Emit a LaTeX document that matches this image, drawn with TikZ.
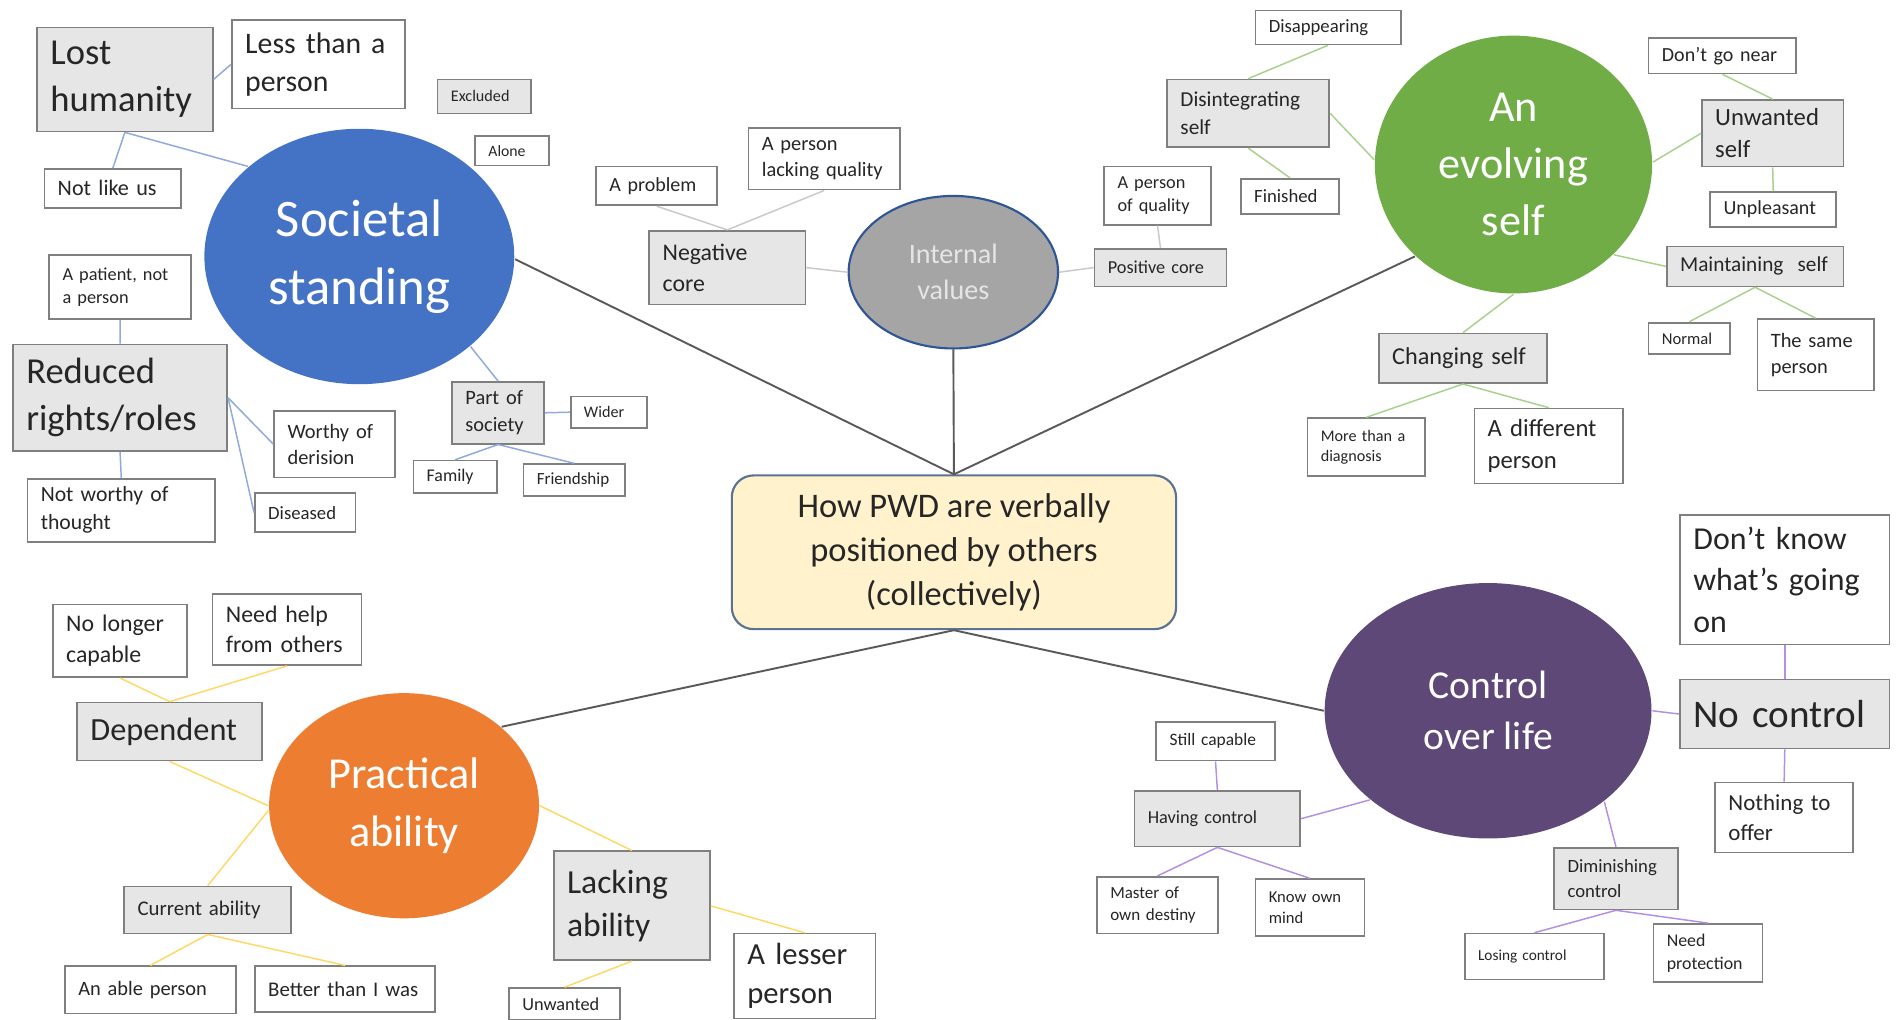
\documentclass[tikz,border=0pt]{standalone}
\usepackage{fontspec}
\setmainfont{Carlito}
\usetikzlibrary{shapes.geometric}
\hyphenpenalty=10000
\exhyphenpenalty=10000

\definecolor{boxgray}{HTML}{E6E6E6}
\definecolor{boxline}{HTML}{7F7F7F}
\definecolor{txt}{HTML}{262626}
\definecolor{socblue}{HTML}{4472C4}
\definecolor{intgray}{HTML}{A5A5A5}
\definecolor{intline}{HTML}{2F5597}
\definecolor{evgreen}{HTML}{70AD47}
\definecolor{praorange}{HTML}{ED7D31}
\definecolor{conpurple}{HTML}{5E4878}
\definecolor{ctrfill}{HTML}{FFF2CC}
\definecolor{ctrline}{HTML}{5B7290}
\definecolor{socl}{HTML}{8FAADC}
\definecolor{intl}{HTML}{C9C9C9}
\definecolor{evl}{HTML}{A9D18E}
\definecolor{pral}{HTML}{FFD966}
\definecolor{conl}{HTML}{B491E0}
\definecolor{mainl}{HTML}{595959}

\tikzset{
  fs/.style={font=\fontsize{#1}{\dimexpr#1pt*129/100\relax}\selectfont},
  leaf/.style={draw=boxline, line width=0.4pt, fill=white, text=txt, align=left,
    inner xsep=0.11cm, inner ysep=0pt, anchor=north west},
  code/.style={leaf, fill=boxgray},
  theme/.style={ellipse, inner sep=0pt, text=white, align=center},
  hub/.style={draw=ctrline, line width=0.5pt, fill=ctrfill, rounded corners=0.18cm,
    text=txt, align=center, minimum width=3.67cm, minimum height=1.27cm},
  mainlink/.style={draw=mainl, line width=0.45pt},
  soclink/.style={draw=socl, line width=0.35pt},
  intlink/.style={draw=intl, line width=0.35pt},
  evlink/.style={draw=evl, line width=0.35pt},
  pralink/.style={draw=pral, line width=0.35pt},
  conlink/.style={draw=conl, line width=0.35pt}
}

% box from top-left (x1,y1) to bottom-right (x2,y2), in picture units
\newcommand{\tbox}[7]{%
  \pgfmathsetmacro\boxw{(#5-#3)/100}%
  \pgfmathsetmacro\boxh{(#6-#4)/100}%
  \pgfmathsetmacro\boxt{(#5-#3-22)/100}%
  \node[#1, minimum width=\boxw cm, minimum height=\boxh cm, text width=\boxt cm] (#2) at (#3,#4) {#7};}

\begin{document}
\begin{tikzpicture}[x=0.01cm, y=-0.01cm]
\useasboundingbox (0,0) rectangle (1568,843);

% centre
\node[hub, fs=8.1] (ctr) at (788.5,456.5) {How PWD are verbally\\positioned by others\\(collectively)};

% societal standing
\node[theme, fill=socblue, minimum width=2.56cm, minimum height=2.11cm, fs=12.4] (societal) at (297,212) {Societal\\standing};
\tbox{code, fs=8.6}{losthum}{30}{22}{175}{108}{Lost\\humanity}
\tbox{leaf, fs=7.0}{lessthan}{191}{16}{334}{89}{Less than a\\person}
\tbox{code, fs=3.8}{excluded}{361}{65}{438}{93}{Excluded}
\tbox{leaf, fs=3.7}{alone}{392}{112}{453}{136}{Alone}
\tbox{leaf, fs=5.2}{notlike}{36}{139}{149}{171}{Not like us}
\tbox{leaf, fs=4.3}{patient}{40}{210}{157}{263}{A patient, not\\a person}
\tbox{code, fs=8.6}{reduced}{10}{284}{187}{372}{Reduced\\rights/roles}
\tbox{leaf, fs=4.8}{worthy}{226}{339}{326}{394}{Worthy of\\derision}
\tbox{leaf, fs=4.4}{diseased}{210}{407}{293}{439}{Diseased}
\tbox{leaf, fs=5.1}{notworthy}{22}{395}{177}{447}{Not worthy of\\thought}
\tbox{code, fs=4.8}{partof}{373}{315}{449}{366}{Part of\\society}
\tbox{leaf, fs=3.8}{wider}{471}{327}{534}{353}{Wider}
\tbox{leaf, fs=4.2}{family}{341}{380}{410}{407}{Family}
\tbox{leaf, fs=4.0}{friendship}{432}{383}{516}{409}{Friendship}

\draw[soclink] (losthum.south) -- (societal.141);
\draw[soclink] (losthum.south) -- (notlike.north);
\draw[soclink] (losthum.east) -- (lessthan.west);
\draw[soclink] (patient.south) -- (reduced.north);
\draw[soclink] (reduced.east) -- (worthy.west);
\draw[soclink] (reduced.east) -- (diseased.west);
\draw[soclink] (reduced.south) -- (notworthy.north);
\draw[soclink] (societal.-39) -- (partof.north);
\draw[soclink] (partof.east) -- (wider.west);
\draw[soclink] (partof.south) -- (family.north);
\draw[soclink] (partof.south) -- (friendship.north);

% internal values
\node[theme, fill=intgray, draw=intline, line width=0.5pt, text=white!90!black, minimum width=1.73cm, minimum height=1.26cm, fs=6.6] (internal) at (788,225) {Internal\\values};
\tbox{leaf, fs=4.7}{aproblem}{492}{137}{592}{169}{A problem}
\tbox{leaf, fs=4.8}{lackingq}{618}{105}{743}{156}{A person\\lacking quality}
\tbox{code, fs=5.6}{negcore}{536}{190}{665}{251}{Negative\\core}
\tbox{leaf, fs=4.3}{aperson}{912}{137}{1000}{185}{A person\\of quality}
\tbox{code, fs=4.3}{poscore}{904}{205}{1013}{236}{Positive core}

\draw[intlink] (aproblem.south) -- (negcore.north);
\draw[intlink] (lackingq.south) -- (negcore.north);
\draw[intlink] (negcore.east) -- (internal.180);
\draw[intlink] (internal.0) -- (poscore.west);
\draw[intlink] (poscore.north) -- (aperson.south);

% an evolving self
\node[theme, fill=evgreen, minimum width=2.29cm, minimum height=2.13cm, fs=10.4] (evolving) at (1251,136) {An\\evolving\\self};
\tbox{leaf, fs=4.4}{disappearing}{1037}{8}{1157}{36}{Disappearing}
\tbox{code, fs=5.0}{disintegr}{964}{65}{1098}{121}{Disintegrating\\self}
\tbox{leaf, fs=4.4}{finished}{1025}{147}{1106}{176}{Finished}
\tbox{leaf, fs=4.7}{dontgo}{1362}{31}{1484}{60}{Don’t go near}
\tbox{code, fs=5.8}{unwanted}{1406}{82}{1523}{137}{Unwanted\\self}
\tbox{leaf, fs=4.7}{unpleasant}{1413}{158}{1517}{187}{Unpleasant}
\tbox{code, fs=5.0}{maintaining}{1377}{203}{1523}{236}{Maintaining~ self}
\tbox{leaf, fs=3.9}{normal}{1362}{266}{1429}{292}{Normal}
\tbox{leaf, fs=4.8}{samep}{1452}{263}{1548}{322}{The same\\person}
\tbox{code, fs=5.7}{changing}{1139}{275}{1278}{316}{Changing self}
\tbox{leaf, fs=3.8}{morethan}{1080}{345}{1177}{393}{More than a\\diagnosis}
\tbox{leaf, fs=5.8}{different}{1218}{337}{1341}{399}{A different\\person}

\draw[evlink] (disappearing.south) -- (disintegr.north);
\draw[evlink] (disintegr.east) -- (evolving.178);
\draw[evlink] (disintegr.south) -- (finished.north);
\draw[evlink] (dontgo.south) -- (unwanted.north);
\draw[evlink] (unwanted.west) -- (evolving.1);
\draw[evlink] (unwanted.south) -- (unpleasant.north);
\draw[evlink] (evolving.-42) -- (maintaining.west);
\draw[evlink] (maintaining.south) -- (normal.north);
\draw[evlink] (maintaining.south) -- (samep.north);
\draw[evlink] (evolving.south) -- (changing.north);
\draw[evlink] (changing.south) -- (morethan.north);
\draw[evlink] (changing.south) -- (different.north);

% practical ability
\node[theme, fill=praorange, minimum width=2.23cm, minimum height=1.86cm, fs=10.4] (practical) at (334,666) {Practical\\ability};
\tbox{leaf, fs=5.6}{nolonger}{43}{499}{154}{559}{No longer\\capable}
\tbox{leaf, fs=5.6}{needhelp}{175}{490}{298}{549}{Need help\\from others}
\tbox{code, fs=7.6}{dependent}{63}{580}{216}{628}{Dependent}
\tbox{code, fs=4.9}{current}{102}{732}{240}{771}{Current ability}
\tbox{leaf, fs=4.8}{anable}{53}{798}{194}{837}{An able person}
\tbox{leaf, fs=4.9}{better}{210}{798}{359}{836}{Better than I was}
\tbox{code, fs=7.9}{lacking}{457}{703}{586}{793}{Lacking\\ability}
\tbox{leaf, fs=7.2}{lesser}{606}{771}{723}{841}{A lesser\\person}
\tbox{leaf, fs=4.3}{unwantedb}{420}{816}{512}{842}{Unwanted}

\draw[pralink] (nolonger.south) -- (dependent.north);
\draw[pralink] (needhelp.south) -- (dependent.north);
\draw[pralink] (dependent.south) -- (practical.180);
\draw[pralink] (practical.182) -- (current.north);
\draw[pralink] (current.south) -- (anable.north);
\draw[pralink] (current.south) -- (better.north);
\draw[pralink] (practical.0) -- (lacking.north);
\draw[pralink] (lacking.east) -- (lesser.north);
\draw[pralink] (lacking.south) -- (unwantedb.north);

% control over life
\node[theme, fill=conpurple, minimum width=2.70cm, minimum height=2.11cm, fs=9.3] (control) at (1230,587.5) {Control\\over life};
\tbox{leaf, fs=7.5}{dontknow}{1388}{425}{1561}{532}{Don’t know\\what’s going\\on}
\tbox{code, fs=9.2}{nocontrol}{1388}{561}{1561}{618}{No control}
\tbox{leaf, fs=5.4}{nothing}{1417}{646}{1531}{704}{Nothing to\\offer}
\tbox{leaf, fs=4.1}{stillcap}{955}{596}{1053}{628}{Still capable}
\tbox{code, fs=4.3}{having}{937}{653}{1074}{699}{Having control}
\tbox{leaf, fs=4.0}{master}{906}{724}{1006}{771}{Master of\\own destiny}
\tbox{leaf, fs=3.9}{knowown}{1037}{726}{1127}{773}{Know own\\mind}
\tbox{code, fs=4.4}{diminishing}{1284}{700}{1386}{751}{Diminishing\\control}
\tbox{leaf, fs=3.6}{losing}{1210}{771}{1325}{809}{Losing control}
\tbox{leaf, fs=4.2}{needprot}{1366}{763}{1456}{811}{Need\\protection}

\draw[conlink] (control.0) -- (nocontrol.west);
\draw[conlink] (dontknow.south) -- (nocontrol.north);
\draw[conlink] (nocontrol.south) -- (nothing.north);
\draw[conlink] (control.217) -- (having.east);
\draw[conlink] (stillcap.south) -- (having.north);
\draw[conlink] (having.south) -- (master.north);
\draw[conlink] (having.south) -- (knowown.north);
\draw[conlink] (control.-38) -- (diminishing.north);
\draw[conlink] (diminishing.south) -- (losing.north);
\draw[conlink] (diminishing.south) -- (needprot.north);

% themes to the centre
\draw[mainlink] (societal.-1) -- (ctr.north);
\draw[mainlink] (internal.south) -- (ctr.north);
\draw[mainlink] (evolving.223) -- (ctr.north);
\draw[mainlink] (ctr.south) -- (practical.39);
\draw[mainlink] (ctr.south) -- (control.180);
\end{tikzpicture}
\end{document}
